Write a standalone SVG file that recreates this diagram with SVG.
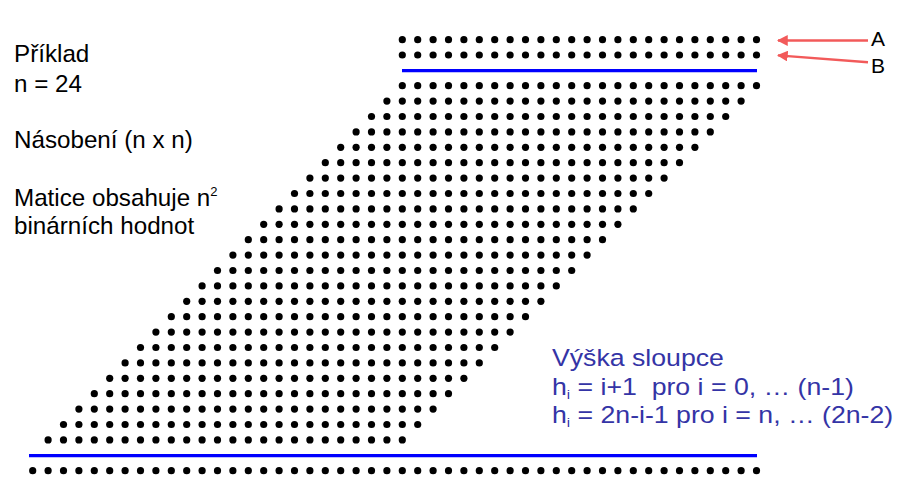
<svg xmlns="http://www.w3.org/2000/svg" xmlns:xlink="http://www.w3.org/1999/xlink" width="907" height="485" viewBox="0 0 907 485">
<style>
.t{font-family:"Liberation Sans",Arial,sans-serif;font-size:24.2px;fill:#000}
.b{font-family:"Liberation Sans",Arial,sans-serif;font-size:23.5px;fill:#3434a6;white-space:pre}
.sub{font-size:13px}
.lab{font-family:"Liberation Sans",Arial,sans-serif;font-size:21px;fill:#000}
.bl{stroke:#0000ff;stroke-width:3.3}
.ar{stroke:#f25a5a;stroke-width:2.4;fill:none;marker-end:url(#ah)}
</style>
<defs>
<marker id="ah" viewBox="0 0 10 10" refX="9" refY="5" markerWidth="4.5" markerHeight="4.5" orient="auto" markerUnits="strokeWidth">
<path d="M0,0 L10,5 L0,10 z" fill="#f25a5a"/>
</marker>
<g id="row" fill="#000">
<circle cx="402.3" cy="0" r="3.6"/><circle cx="417.7" cy="0" r="3.6"/><circle cx="433.1" cy="0" r="3.6"/><circle cx="448.5" cy="0" r="3.6"/><circle cx="463.9" cy="0" r="3.6"/><circle cx="479.3" cy="0" r="3.6"/><circle cx="494.7" cy="0" r="3.6"/><circle cx="510.1" cy="0" r="3.6"/><circle cx="525.5" cy="0" r="3.6"/><circle cx="540.9" cy="0" r="3.6"/><circle cx="556.3" cy="0" r="3.6"/><circle cx="571.7" cy="0" r="3.6"/><circle cx="587.1" cy="0" r="3.6"/><circle cx="602.5" cy="0" r="3.6"/><circle cx="617.9" cy="0" r="3.6"/><circle cx="633.3" cy="0" r="3.6"/><circle cx="648.7" cy="0" r="3.6"/><circle cx="664.1" cy="0" r="3.6"/><circle cx="679.5" cy="0" r="3.6"/><circle cx="694.9" cy="0" r="3.6"/><circle cx="710.3" cy="0" r="3.6"/><circle cx="725.7" cy="0" r="3.6"/><circle cx="741.1" cy="0" r="3.6"/><circle cx="756.5" cy="0" r="3.6"/>
</g>
</defs>
<rect width="907" height="485" fill="#fff"/>
<g id="left-text">
<text class="t" x="14" y="62">Příklad</text>
<text class="t" x="14" y="92">n = 24</text>
<text class="t" x="14" y="147.5">Násobení (n x n)</text>
<text class="t" x="14" y="206">Matice obsahuje n<tspan font-size="13" dy="-10">2</tspan></text>
<text class="t" x="14" y="233.5">binárních hodnot</text>
</g>
<g id="row-A"><use xlink:href="#row" transform="translate(0,39.7)"/></g>
<g id="row-B"><use xlink:href="#row" transform="translate(0,55)"/></g>
<g id="matrix">
<use xlink:href="#row" transform="translate(0,85.7)"/>
<use xlink:href="#row" transform="translate(-15.4,101.1)"/>
<use xlink:href="#row" transform="translate(-30.8,116.5)"/>
<use xlink:href="#row" transform="translate(-46.2,131.9)"/>
<use xlink:href="#row" transform="translate(-61.6,147.3)"/>
<use xlink:href="#row" transform="translate(-77,162.7)"/>
<use xlink:href="#row" transform="translate(-92.4,178.1)"/>
<use xlink:href="#row" transform="translate(-107.8,193.5)"/>
<use xlink:href="#row" transform="translate(-123.2,208.9)"/>
<use xlink:href="#row" transform="translate(-138.6,224.3)"/>
<use xlink:href="#row" transform="translate(-154,239.7)"/>
<use xlink:href="#row" transform="translate(-169.4,255.1)"/>
<use xlink:href="#row" transform="translate(-184.8,270.5)"/>
<use xlink:href="#row" transform="translate(-200.2,285.9)"/>
<use xlink:href="#row" transform="translate(-215.6,301.3)"/>
<use xlink:href="#row" transform="translate(-231,316.7)"/>
<use xlink:href="#row" transform="translate(-246.4,332.1)"/>
<use xlink:href="#row" transform="translate(-261.8,347.5)"/>
<use xlink:href="#row" transform="translate(-277.2,362.9)"/>
<use xlink:href="#row" transform="translate(-292.6,378.3)"/>
<use xlink:href="#row" transform="translate(-308,393.7)"/>
<use xlink:href="#row" transform="translate(-323.4,409.1)"/>
<use xlink:href="#row" transform="translate(-338.8,424.5)"/>
<use xlink:href="#row" transform="translate(-354.2,439.9)"/>
</g>
<g id="result-row">
<use xlink:href="#row" transform="translate(-369.6,470.7)"/>
<use xlink:href="#row" transform="translate(0,470.7)"/>
</g>
<g id="lines">
<line class="bl" x1="402" y1="70.7" x2="757" y2="70.7"/>
<line class="bl" x1="29" y1="455.7" x2="757" y2="455.7"/>
</g>
<g id="connectors">
<line class="ar" x1="868" y1="40.5" x2="778" y2="40.5"/>
<line class="ar" x1="868" y1="62.3" x2="778" y2="55.4"/>
</g>
<g id="label-A"><text class="lab" x="871" y="45.5">A</text></g>
<g id="label-B"><text class="lab" x="871" y="72.5">B</text></g>
<g id="formula" transform="translate(552,0) scale(1.135,1)">
<text class="b" x="0" y="366.5">Výška sloupce</text>
<text class="b" x="0" y="395">h<tspan class="sub" dy="4">i</tspan><tspan dy="-4"> = i+1  pro i = 0, … (n-1)</tspan></text>
<text class="b" x="0" y="423.5">h<tspan class="sub" dy="4">i</tspan><tspan dy="-4"> = 2n-i-1 pro i = n, … (2n-2)</tspan></text>
</g>
</svg>
